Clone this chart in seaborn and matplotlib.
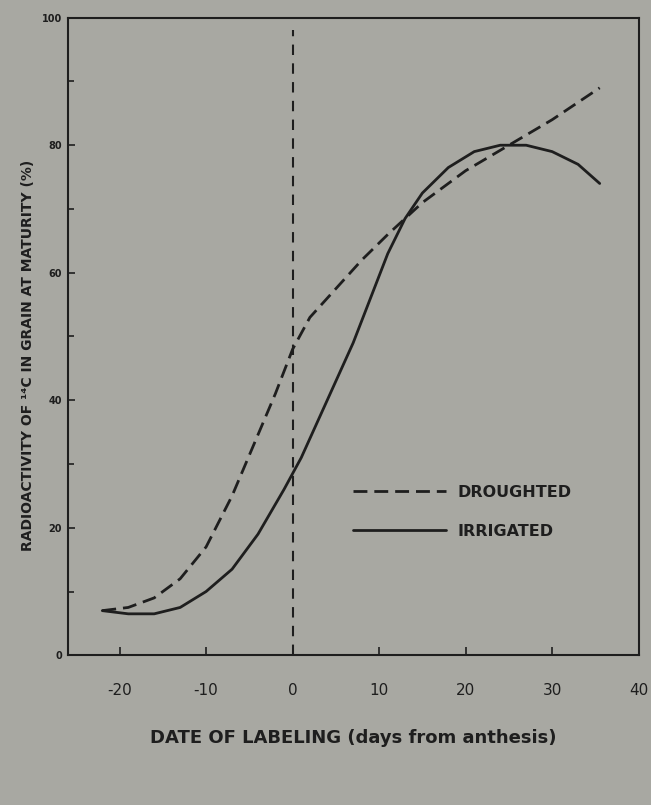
import numpy as np
import pandas as pd
import matplotlib.pyplot as plt
import seaborn as sns

drought_days = [-22, -19, -16, -13, -10, -7, -4.5, -2, 0, 2, 5, 8, 11, 15, 20, 25, 30, 35.5]
drought_pct = [7, 7.5, 9, 12, 17, 25, 33, 41, 48, 53, 57.5, 62, 66, 71, 76, 80, 84, 89]

irrig_days = [-22, -19, -16, -13, -10, -7, -4, -1, 1, 3, 5, 7, 9, 11, 13, 15, 18, 21, 24, 27, 30, 33, 35.5]
irrig_pct = [7, 6.5, 6.5, 7.5, 10, 13.5, 19, 26, 31, 37, 43, 49, 56, 63, 68.5, 72.5, 76.5, 79, 80, 80, 79, 77, 74]

y_ticks = [0, 20, 40, 60, 80, 100]
x_ticks = [-20, -10, 0, 10, 20, 30, 40]
x_labels = ["-20", "-10", "0", "10", "20", "30", "40"]

df = pd.concat([
    pd.DataFrame({"day": drought_days, "pct": drought_pct, "treatment": "DROUGHTED"}),
    pd.DataFrame({"day": irrig_days, "pct": irrig_pct, "treatment": "IRRIGATED"}),
])

bg = "#a8a8a2"
ink = "#1e1e1e"

sns.set_style("ticks")
plt.rcParams["font.family"] = ["DejaVu Sans"]

fig = plt.figure(figsize=(6.51, 8.05), dpi=100, facecolor=bg)
ax = fig.add_axes([0.104, 0.186, 0.877, 0.792])
ax.set_facecolor(bg)

sns.lineplot(data=df, x="day", y="pct", style="treatment",
             hue="treatment", palette={"DROUGHTED": ink, "IRRIGATED": ink},
             dashes={"DROUGHTED": (5, 2.5), "IRRIGATED": ""},
             linewidth=2.0, ax=ax, sort=False)

# anthesis marker
ax.vlines(0, 0, 98, color=ink, linestyle=(0, (5, 4)), linewidth=1.5)

ax.set_xlim(-26, 40)
ax.set_ylim(0, 100)
ax.set_yticks(y_ticks)
ax.set_yticks(np.arange(10, 100, 20), minor=True)
ax.set_yticklabels(["0", "20", "40", "60", "80", "100"], fontsize=7, fontweight="bold", color=ink)
ax.set_xticks(x_ticks)
ax.set_xticklabels(x_labels, fontsize=11, color=ink)
ax.tick_params(axis="both", which="both", direction="in", color=ink, width=1.2)
ax.tick_params(axis="y", which="major", length=5, pad=4)
ax.tick_params(axis="y", which="minor", length=4)
ax.tick_params(axis="x", length=6, pad=20)

for s in ax.spines.values():
    s.set_visible(True)
    s.set_color(ink)
    s.set_linewidth(1.5)

ax.set_xlabel("DATE OF LABELING (days from anthesis)", fontsize=13,
              fontweight="bold", color=ink, labelpad=22)
ax.set_ylabel("RADIOACTIVITY OF \u00b9\u2074C IN GRAIN AT MATURITY (%)", fontsize=10,
              fontweight="bold", color=ink)
ax.yaxis.set_label_coords(-0.058, 0.47)

leg = ax.legend(loc="center left", bbox_to_anchor=(0.475, 0.225), frameon=False,
                handlelength=5.8, labelspacing=1.5, handletextpad=0.7,
                prop={"size": 11.5, "weight": "bold"})
for t in leg.get_texts():
    t.set_color(ink)

fig.savefig("out.png", dpi=100, facecolor=bg)
